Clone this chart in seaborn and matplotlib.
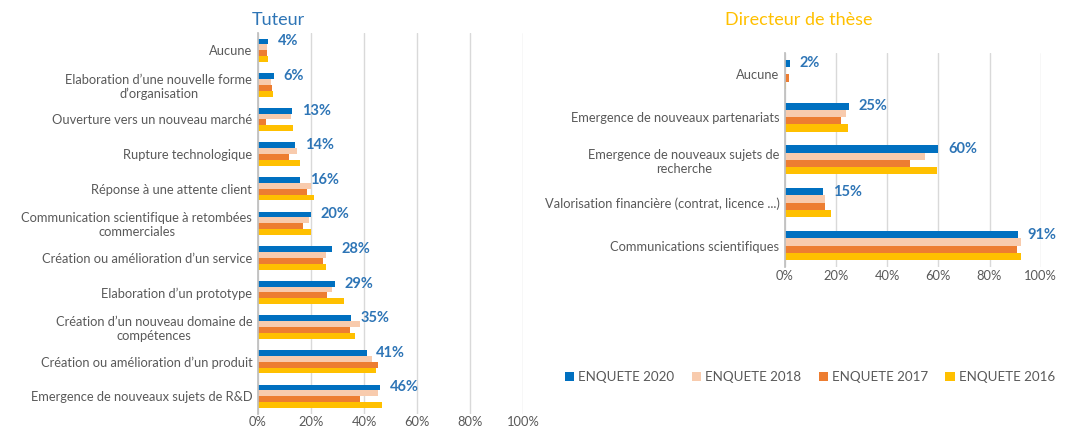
import pandas as pd
import matplotlib.pyplot as plt
import seaborn as sns

annees = ['ENQUETE 2020', 'ENQUETE 2018', 'ENQUETE 2017', 'ENQUETE 2016']
couleurs = ['#0070C0', '#F8CBAD', '#ED7D31', '#FFC000']

# Tuteur
cats_tuteur = [
    'Aucune',
    'Elaboration d’une nouvelle forme\nd’organisation',
    'Ouverture vers un nouveau marché',
    'Rupture technologique',
    'Réponse à une attente client',
    'Communication scientifique à retombées\ncommerciales',
    'Création ou amélioration d’un service',
    'Elaboration d’un prototype',
    'Création d’un nouveau domaine de\ncompétences',
    'Création ou amélioration d’un produit',
    'Emergence de nouveaux sujets de R&D',
]
tuteur_2020 = [4, 6, 13, 14, 16, 20, 28, 29, 35, 41, 46]
tuteur_2018 = [3.5, 4.9, 12.5, 14.8, 20, 19.2, 25.6, 27.9, 38.6, 43, 45.3]
tuteur_2017 = [3.3, 5.2, 3, 11.6, 18.6, 17, 24.4, 25.9, 34.8, 45.3, 38.4]
tuteur_2016 = [3.7, 5.6, 13.3, 16, 21, 20.2, 25.6, 32.3, 36.7, 44.7, 46.6]

# Directeur de thèse
cats_dir = [
    'Aucune',
    'Emergence de nouveaux partenariats',
    'Emergence de nouveaux sujets de\nrecherche',
    'Valorisation financière (contrat, licence ...)',
    'Communications scientifiques',
]
dir_2020 = [2, 25, 60, 15, 91]
dir_2018 = [0.6, 23.8, 54.7, 15.5, 92.3]
dir_2017 = [1.7, 21.8, 49, 15.8, 90.6]
dir_2016 = [0.4, 24.8, 59.5, 18, 92.3]


def to_long(cats, series):
    rows = []
    for annee, vals in zip(annees, series):
        for c, v in zip(cats, vals):
            rows.append({'cat': c, 'annee': annee, 'val': v})
    return pd.DataFrame(rows)


df_tut = to_long(cats_tuteur, [tuteur_2020, tuteur_2018, tuteur_2017, tuteur_2016])
df_dir = to_long(cats_dir, [dir_2020, dir_2018, dir_2017, dir_2016])

sns.set_theme(style='white')
plt.rcParams['font.family'] = ['Lato', 'DejaVu Sans']

gris = '#595959'
fig = plt.figure(figsize=(10.7, 4.34), dpi=100)
ax1 = fig.add_axes([0.241, 0.047, 0.248, 0.877])
ax2 = fig.add_axes([0.7336, 0.385, 0.239, 0.493])


def dessiner(ax, df, cats, vals2020, pad, fs):
    sns.barplot(data=df, y='cat', x='val', hue='annee', order=cats,
                hue_order=annees, palette=couleurs, orient='h', width=0.68,
                saturation=1, linewidth=0, ax=ax, legend=True)
    ax.set_xlim(0, 100)
    ax.set_xticks(range(0, 101, 20))
    ax.set_xticklabels([f'{t}%' for t in range(0, 101, 20)], color=gris, fontsize=9.3)
    ax.set_xlabel('')
    ax.set_ylabel('')
    ax.tick_params(axis='y', length=0, pad=4)
    ax.tick_params(axis='x', length=0, pad=2)
    for lab in ax.get_yticklabels():
        lab.set_multialignment('center')
        lab.set_color(gris)
        lab.set_fontsize(9.3)
    ax.grid(axis='x', color='#D9D9D9', linewidth=1)
    ax.set_axisbelow(True)
    for s in ['top', 'right', 'bottom']:
        ax.spines[s].set_visible(False)
    ax.spines['left'].set_color('#BFBFBF')
    ax.bar_label(ax.containers[0], labels=[f'{v:.0f}%' for v in vals2020],
                 padding=pad, color='#2E75B6', fontweight='bold', fontsize=fs)
    ax.get_legend().remove()


dessiner(ax1, df_tut, cats_tuteur, tuteur_2020, 7, 10.5)
dessiner(ax2, df_dir, cats_dir, dir_2020, 7, 10.5)

fig.text(0.235, 0.955, 'Tuteur', color='#2E75B6', fontsize=13, ha='left', va='center')
fig.text(0.678, 0.955, 'Directeur de thèse', color='#FFC000', fontsize=13, ha='left', va='center')

handles, labels = ax1.get_legend_handles_labels()
fig.legend(handles, labels, loc='center', bbox_to_anchor=(0.757, 0.131), ncol=4,
           frameon=False, fontsize=9.6, handlelength=0.7, handleheight=0.7,
           handletextpad=0.3, columnspacing=1.3, labelcolor=gris)

fig.savefig('out.png', dpi=100)
